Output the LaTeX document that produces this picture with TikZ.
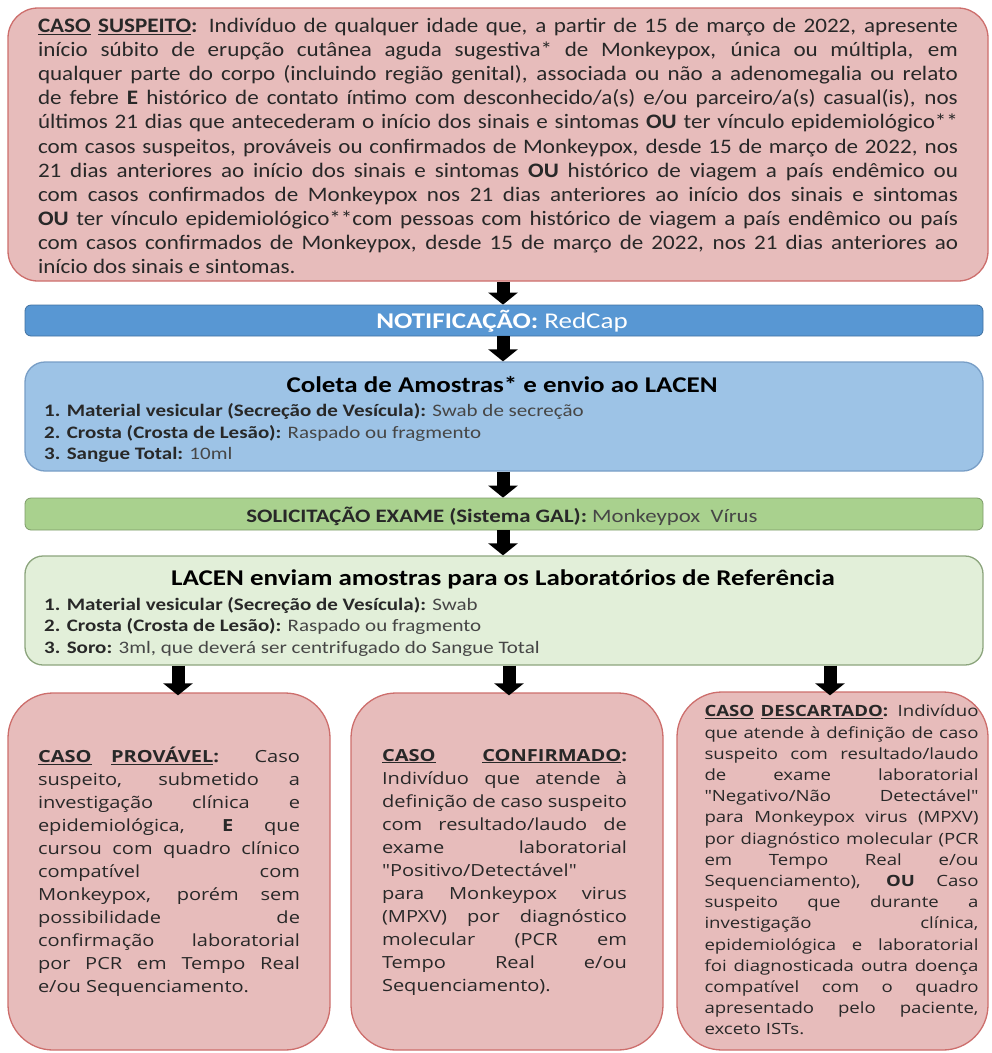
\documentclass[tikz,border=0pt]{standalone}
\usepackage{fontspec}
\usetikzlibrary{arrows.meta}
\newfontfamily\calfont[FakeStretch=1.2]{Carlito}
\newfontfamily\caltopfont[FakeStretch=1.12]{Carlito}
\newfontfamily\osfont[FakeStretch=1.2]{Open Sans}
\definecolor{pinkfill}{RGB}{231,188,187}
\definecolor{pinkdraw}{RGB}{205,110,108}
\definecolor{notiffill}{RGB}{88,151,211}
\definecolor{notifdraw}{RGB}{65,113,160}
\definecolor{colfill}{RGB}{157,195,230}
\definecolor{coldraw}{RGB}{120,158,198}
\definecolor{solfill}{RGB}{169,209,142}
\definecolor{soldraw}{RGB}{125,155,105}
\definecolor{labfill}{RGB}{226,239,217}
\definecolor{labdraw}{RGB}{140,165,125}
\definecolor{txtdark}{RGB}{40,40,40}
\definecolor{txtgray}{RGB}{70,70,70}
\hyphenpenalty=10000
\exhyphenpenalty=10000
\tolerance=10000
\tikzset{
  boxbase/.style={inner sep=0pt, line width=1.3pt},
  pinkbox/.style={boxbase, draw=pinkdraw, fill=pinkfill, rounded corners=#1},
  notifbar/.style={boxbase, draw=notifdraw, line width=0.8pt, fill=notiffill, rounded corners=6pt},
  colbox/.style={boxbase, draw=coldraw, fill=colfill, rounded corners=20pt},
  solbar/.style={boxbase, draw=soldraw, line width=0.8pt, fill=solfill, rounded corners=6pt},
  labbox/.style={boxbase, draw=labdraw, fill=labfill, rounded corners=18pt},
  toptext/.style={inner sep=0pt, text width=920pt, align=justify, text=txtdark,
    font={\caltopfont\fontsize{20.6}{24.1}\selectfont}},
  casetext/.style={inner sep=0pt, text width=#1, align=justify, text=txtdark,
    font={\osfont\fontsize{16.7}{23}\selectfont}},
  casetextsm/.style={inner sep=0pt, text width=#1, align=justify, text=txtdark,
    font={\osfont\fontsize{15.5}{21.2}\selectfont}},
  title/.style={inner sep=0pt, anchor=base, text=black,
    font={\calfont\bfseries\fontsize{22.5}{26}\selectfont}},
  item/.style={inner sep=0pt, anchor=base west, text=txtgray,
    font={\calfont\fontsize{17.5}{21}\selectfont}},
  bartext/.style={inner sep=0pt, anchor=base},
  barrow/.style={draw=black, line width=13pt, -{Triangle[length=12pt,width=29pt]}},
}
\newcommand{\lbl}[1]{\textbf{\color{txtdark}#1}}
\begin{document}
\begin{tikzpicture}[x=1pt,y=-1pt]
\useasboundingbox (0,0) rectangle (992,1053);

% ---------- boxes ----------
\node[pinkbox=30pt, minimum width=980pt, minimum height=273pt] (susp) at (498,144.5) {};
\node[notifbar, minimum width=958pt, minimum height=31pt] (notif) at (504,320.5) {};
\node[colbox, minimum width=958pt, minimum height=109pt] (coleta) at (504,416.5) {};
\node[solbar, minimum width=958pt, minimum height=32pt] (solic) at (504,514) {};
\node[labbox, minimum width=958pt, minimum height=109pt] (lacen) at (504,610.5) {};
\node[pinkbox=45pt, minimum width=322pt, minimum height=357pt] (prov) at (169,871.5) {};
\node[pinkbox=45pt, minimum width=312pt, minimum height=357pt] (conf) at (507,871.5) {};
\node[pinkbox=45pt, minimum width=311pt, minimum height=358pt] (desc) at (832.5,871) {};

% ---------- texts ----------
\node[toptext] (susptxt) at (498,146) {%
\textbf{\underline{CASO} \underline{SUSPEITO}:} Indivíduo de qualquer idade que, a partir de 15 de março de 2022, apresente\linebreak
início súbito de erupção cutânea aguda sugestiva* de Monkeypox, única ou múltipla, em\linebreak
qualquer parte do corpo (incluindo região genital), associada ou não a adenomegalia ou relato\linebreak
de febre \textbf{E} histórico de contato íntimo com desconhecido/a(s) e/ou parceiro/a(s) casual(is), nos\linebreak
últimos 21 dias que antecederam o início dos sinais e sintomas \textbf{OU} ter vínculo epidemiológico**\linebreak
com casos suspeitos, prováveis ou confirmados de Monkeypox, desde 15 de março de 2022, nos\linebreak
21 dias anteriores ao início dos sinais e sintomas \textbf{OU} histórico de viagem a país endêmico ou\linebreak
com casos confirmados de Monkeypox nos 21 dias anteriores ao início dos sinais e sintomas\linebreak
\textbf{OU} ter vínculo epidemiológico**com pessoas com histórico de viagem a país endêmico ou país\linebreak
com casos confirmados de Monkeypox, desde 15 de março de 2022, nos 21 dias anteriores ao\linebreak
início dos sinais e sintomas.};

\node[bartext, text=white, font={\calfont\fontsize{22.5}{26}\selectfont}] (notiftxt) at (502,328)
  {\textbf{NOTIFICAÇÃO:} RedCap};

\node[title] (coltitle) at (502,392) {Coleta de Amostras* e envio ao LACEN};
\node[item] (col1) at (44,416.5) {\lbl{1. Material vesicular (Secreção de Vesícula):} Swab de secreção};
\node[item] (col2) at (44,438) {\lbl{2. Crosta (Crosta de Lesão):} Raspado ou fragmento};
\node[item] (col3) at (44,459.5) {\lbl{3. Sangue Total:} 10ml};

\node[bartext, text=txtgray, font={\calfont\fontsize{19}{22}\selectfont}] (soltxt) at (502,522)
  {\lbl{SOLICITAÇÃO EXAME (Sistema GAL):} Monkeypox\ \ Vírus};

\node[title] (labtitle) at (503,585.5) {LACEN enviam amostras para os Laboratórios de Referência};
\node[item] (lab1) at (44,610) {\lbl{1. Material vesicular (Secreção de Vesícula):} Swab};
\node[item] (lab2) at (44,631.5) {\lbl{2. Crosta (Crosta de Lesão):} Raspado ou fragmento};
\node[item] (lab3) at (44,653) {\lbl{3. Soro:} 3ml, que deverá ser centrifugado do Sangue Total};

\node[casetext=262pt] (provtxt) at (169,872) {%
\textbf{\underline{CASO} \underline{PROVÁVEL}:} Caso\linebreak
suspeito, submetido a\linebreak
investigação clínica e\linebreak
epidemiológica, \textbf{E} que\linebreak
cursou com quadro clínico\linebreak
compatível com\linebreak
Monkeypox, porém sem\linebreak
possibilidade de\linebreak
confirmação laboratorial\linebreak
por PCR em Tempo Real\linebreak
e/ou Sequenciamento.};

\node[casetext=245pt] (conftxt) at (504.5,872) {%
\textbf{\underline{CASO} \underline{CONFIRMADO}:}\linebreak
Indivíduo que atende à\linebreak
definição de caso suspeito\linebreak
com resultado/laudo de\linebreak
exame laboratorial\linebreak
"Positivo/Detectável"\linebreak
para Monkeypox virus\linebreak
(MPXV) por diagnóstico\linebreak
molecular (PCR em\linebreak
Tempo Real e/ou\linebreak
Sequenciamento).};

\node[casetextsm=274pt] (desctxt) at (841.5,870) {%
\textbf{\underline{CASO} \underline{DESCARTADO}:} Indivíduo\linebreak
que atende à definição de caso\linebreak
suspeito com resultado/laudo\linebreak
de exame laboratorial\linebreak
"Negativo/Não Detectável"\linebreak
para Monkeypox virus (MPXV)\linebreak
por diagnóstico molecular (PCR\linebreak
em Tempo Real e/ou\linebreak
Sequenciamento), \textbf{OU} Caso\linebreak
suspeito que durante a\linebreak
investigação clínica,\linebreak
epidemiológica e laboratorial\linebreak
foi diagnosticada outra doença\linebreak
compatível com o quadro\linebreak
apresentado pelo paciente,\linebreak
exceto ISTs.};

% ---------- arrows ----------
\coordinate (ac) at (503,0);
\coordinate (al) at (178,0);
\coordinate (am) at (509,0);
\coordinate (ar) at (830,0);
\draw[barrow] (susp.south -| ac) -- (notif.north -| ac);
\draw[barrow] (notif.south -| ac) -- (coleta.north -| ac);
\draw[barrow] (coleta.south -| ac) -- (solic.north -| ac);
\draw[barrow] (solic.south -| ac) -- (lacen.north -| ac);
\draw[barrow] (lacen.south -| al) -- ([yshift=-3pt]prov.north -| al);
\draw[barrow] (lacen.south -| am) -- ([yshift=-3pt]conf.north -| am);
\draw[barrow] (lacen.south -| ar) -- ([yshift=-4pt]desc.north -| ar);
\end{tikzpicture}
\end{document}
